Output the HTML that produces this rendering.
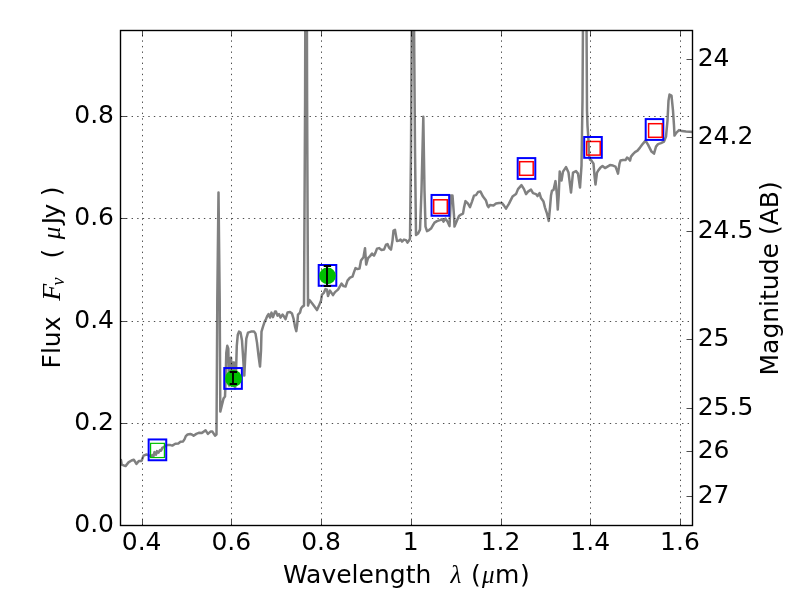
<!DOCTYPE html>
<html><head><meta charset="utf-8"><title>SED plot</title>
<style>html,body{margin:0;padding:0;background:#fff;width:800px;height:600px;overflow:hidden}svg{display:block}.txt{filter:grayscale(1)}</style>
</head><body>
<svg width="800" height="600" viewBox="0 0 800 600">
<defs><clipPath id="ax"><rect x="120" y="30" width="573" height="496"/></clipPath></defs>
<rect width="800" height="600" fill="#fff"/>
<path d="M116,456.6 L119,460.1 L121,460.1 L121.7,464.6 L125.5,466.1 L128.5,462.4 L131.5,460.5 L133.8,459.7 L136.4,463.9 L139,460.9 L141.6,460.9 L143.5,455.6 L146.5,454.5 L149.5,455.6 L151,456.6 L152.3,455.1 L153.3,456.6 L154.5,452.1 L156,454.6 L157,451.1 L158.5,452.6 L160,450.1 L161,450.6 L162.5,447.6 L164,447.1 L165.5,445.6 L167.5,445.1 L170.5,445.1 L172.3,445.6 L175.3,443.8 L178.3,443.4 L180.5,441.7 L183.1,441.4 L184.6,439.1 L185.8,436.1 L187.6,434.5 L190.3,434 L191.8,434.5 L193.6,435.7 L196.3,433.9 L199.3,432.7 L201.5,433.1 L203.8,431.6 L205.6,430.3 L207.9,433.9 L210.5,431.6 L212.4,431.6 L215,435.7 L216.5,434.6 L217.3,300.6 L218.5,192.4 L219.7,300.6 L220.3,411.6 L222,404.6 L223.5,398.6 L225,396.6 L225.6,380.6 L226.3,352.6 L227.3,345.8 L228.3,348.6 L229,385.6 L230,358.6 L231,357.6 L232,385.6 L233,362.6 L234,362.6 L235,388.6 L236,372.6 L236.8,345.6 L237.8,334.6 L239,331.6 L240.5,332.6 L242,340.6 L243,355.6 L244.3,375.6 L245.3,355.6 L246.3,338.6 L248,332.6 L251,331.6 L254,331.4 L255.5,333.6 L257,342.6 L258.5,355.6 L260,366.6 L261,350.6 L261.5,331.6 L263,326.6 L264.5,322.1 L266,319.1 L267.5,315.6 L268.5,314.1 L270,317.6 L271.5,312.6 L273,317.1 L275,311.6 L276,311.6 L277.5,315.6 L279,314.1 L280.5,317.6 L282.5,314.6 L284,316.6 L285.5,319.1 L287.5,312.6 L290,312.1 L292,313.6 L293.5,318.6 L295,326.6 L296.3,331.1 L297.2,324.6 L298,314.6 L300,312.6 L301,308.6 L302.5,306.6 L304,305.6 L305.1,100.6 L305.3,20 L306.9,20 L307.1,100.6 L308,305.6 L309.5,300.1 L313,304.6 L317,310.1 L319,305.6 L321,300.6 L322,294.6 L324,292.6 L325.5,289.1 L327,289.6 L328,296.1 L330,290.6 L333,295.1 L335,292.1 L338,289.6 L341.5,283.6 L343.5,286.1 L345.5,286.6 L347.5,280.6 L350,277.6 L352.5,276.6 L354,272.1 L355.5,268.1 L357.5,269.1 L359.5,268.6 L361,260.6 L362.5,258.6 L363.5,257.1 L365,248.2 L366.2,264.6 L368,258.1 L370,256.1 L372,253.6 L374,255.6 L375.5,252.6 L377,248.6 L379,248.1 L381.5,250.1 L384,249.6 L386,244.6 L387.5,244.1 L389,247.6 L391,249.6 L392.5,240.6 L393.5,230.6 L395,229.9 L396,235.6 L397,241.1 L399,240.6 L400.5,239.6 L402,241.6 L404,239.6 L406,240.1 L407.5,242.6 L409,240.6 L410,238.6 L411,150.6 L411.8,20 L414,20 L415,150.6 L416,235.1 L418,233.6 L420,229.6 L421.5,190.6 L423.3,116.8 L424.5,190.6 L425.5,226.6 L427,231.1 L429,230.1 L431,228.6 L433,225.1 L434.5,222.6 L437,221.1 L440,220.1 L442,219.1 L443.5,221.6 L445.5,218.6 L447.5,221.6 L449.5,226.1 L451,195.6 L452.5,195.6 L454,215.6 L454.5,226.6 L457,220.6 L459,216.1 L461,214.6 L463,213.6 L464,207.6 L465.5,201.1 L468,203.6 L470,207.1 L472,201.6 L474,195.6 L476,195.1 L478,192.1 L480.5,191.6 L483,196.6 L486,200.6 L487.5,205.6 L488.5,207.1 L490,205.1 L493.5,205.6 L496,203.6 L499,203.1 L502,203.1 L504,205.6 L506,208.6 L509,203.6 L512.5,196.6 L516,194.1 L518,189.1 L521.5,185.1 L524,189.1 L526,194.1 L528,191.6 L531,189.6 L533,193.1 L536,194.1 L537.5,196.1 L539.5,193.1 L541,198.1 L543.5,201.6 L545,207.6 L547,213.6 L548.75,220.9 L550,207.6 L551,195.6 L552,190.6 L553.5,190.1 L555.5,181.1 L557,195.6 L557.75,209.6 L558.7,195.6 L559.7,171.6 L561.5,180.6 L563,171.6 L566,167.1 L568.5,172.6 L571,192.6 L573,172.6 L576,171.1 L578,173.6 L580,187.6 L581.5,165.6 L582.5,100.6 L583,20 L586.5,20 L587,110.6 L587.5,125.6 L588.5,140.6 L589,155.6 L590,159.6 L591.5,160.6 L593.5,163.6 L594.5,175.6 L595.5,184.6 L597,172.6 L598.5,170.1 L600.5,167.6 L602.5,166.1 L605,168.1 L607.5,166.6 L610,165.1 L613,165.6 L615.5,166.6 L617,170.6 L618,173.6 L619.5,163.6 L620.5,160.6 L623,160.1 L625.5,160.1 L627,157.6 L628.5,158.6 L630,160.6 L631,156.6 L633,154.1 L635,152.1 L637.5,150.6 L640,147.6 L643,143.6 L645.5,140.6 L648,144.6 L651.5,151.6 L654,153.6 L656,146.6 L658,144.1 L661,143.1 L664,141.6 L666,136.6 L667.5,120.6 L668.5,100.6 L669.5,94.6 L671.5,95.6 L673,110.6 L674,125.6 L674.5,135.6 L676.5,132.6 L679,130.1 L682,131.1 L686,131.6 L696,132.1" fill="none" stroke="#808080" stroke-width="2.5" stroke-linejoin="round" stroke-linecap="butt" clip-path="url(#ax)"/>
<rect x="148.65" y="439.45" width="17.6" height="20.8" fill="none" stroke="#0000ff" stroke-width="2"/>
<rect x="224.25" y="368.05" width="17.6" height="20.8" fill="none" stroke="#0000ff" stroke-width="2"/>
<rect x="318.70" y="265.00" width="17.6" height="20.8" fill="none" stroke="#0000ff" stroke-width="2"/>
<rect x="431.55" y="194.95" width="17.6" height="20.8" fill="none" stroke="#0000ff" stroke-width="2"/>
<rect x="517.70" y="158.10" width="17.6" height="20.8" fill="none" stroke="#0000ff" stroke-width="2"/>
<rect x="584.20" y="137.00" width="17.6" height="20.8" fill="none" stroke="#0000ff" stroke-width="2"/>
<rect x="645.70" y="119.10" width="17.6" height="20.8" fill="none" stroke="#0000ff" stroke-width="2"/>
<rect x="433.70" y="199.80" width="13.6" height="13.6" fill="none" stroke="#ff0000" stroke-width="1.5"/>
<rect x="519.60" y="161.70" width="13.6" height="13.6" fill="none" stroke="#ff0000" stroke-width="1.5"/>
<rect x="586.60" y="141.50" width="13.6" height="13.6" fill="none" stroke="#ff0000" stroke-width="1.5"/>
<rect x="648.60" y="123.70" width="13.6" height="13.6" fill="none" stroke="#ff0000" stroke-width="1.5"/>
<rect x="150.60" y="443.35" width="13.8" height="14.2" fill="none" stroke="#00bf00" stroke-width="1.2"/>
<path d="M142.5,525.5 V30 M231.5,525.5 V30 M321.5,525.5 V30 M411.5,525.5 V30 M501.5,525.5 V30 M590.5,525.5 V30 M680.5,525.5 V30 M120.5,423.5 H693 M120.5,321.5 H693 M120.5,218.5 H693 M120.5,116.5 H693" fill="none" stroke="#000" stroke-width="0.7" stroke-dasharray="1.39 4.17" clip-path="url(#ax)"/>
<circle cx="233.5" cy="378.4" r="8.5" fill="#00bf00"/>
<path d="M233.0,372 V384 M229.7,372 H237.1 M229.7,384 H237.1" stroke="#000" stroke-width="1.9" fill="none"/>
<circle cx="327.5" cy="275.85" r="8.4" fill="#00bf00"/>
<path d="M327.0,266 V286 M323.7,266 H331.1 M323.7,286 H331.1" stroke="#000" stroke-width="1.9" fill="none"/>
<path d="M142.5,525.5 V519.5 M142.5,30.5 V36.5 M231.5,525.5 V519.5 M231.5,30.5 V36.5 M321.5,525.5 V519.5 M321.5,30.5 V36.5 M411.5,525.5 V519.5 M411.5,30.5 V36.5 M501.5,525.5 V519.5 M501.5,30.5 V36.5 M590.5,525.5 V519.5 M590.5,30.5 V36.5 M680.5,525.5 V519.5 M680.5,30.5 V36.5 M120.5,525.5 H126.5 M120.5,423.5 H126.5 M120.5,321.5 H126.5 M120.5,218.5 H126.5 M120.5,116.5 H126.5 M692.5,59.5 H686.5 M692.5,137.5 H686.5 M692.5,231.5 H686.5 M692.5,339.5 H686.5 M692.5,408.5 H686.5 M692.5,451.5 H686.5 M692.5,496.5 H686.5" stroke="#000" stroke-width="0.7" fill="none"/>
<rect x="120.5" y="30.5" width="572" height="495" fill="none" stroke="#000" stroke-width="1.39"/>
<g class="txt" font-family="DejaVu Sans, Liberation Sans, sans-serif" font-size="25" fill="#000">
<text x="114" y="531.7" text-anchor="end">0.0</text>
<text x="114" y="429.7" text-anchor="end">0.2</text>
<text x="114" y="327.7" text-anchor="end">0.4</text>
<text x="114" y="224.7" text-anchor="end">0.6</text>
<text x="114" y="122.7" text-anchor="end">0.8</text>
<text x="141.64" y="549.8" text-anchor="middle">0.4</text>
<text x="231.36" y="549.8" text-anchor="middle">0.6</text>
<text x="321.08" y="549.8" text-anchor="middle">0.8</text>
<text x="410.80" y="549.8" text-anchor="middle">1</text>
<text x="500.52" y="549.8" text-anchor="middle">1.2</text>
<text x="590.24" y="549.8" text-anchor="middle">1.4</text>
<text x="679.96" y="549.8" text-anchor="middle">1.6</text>
<text x="697.7" y="65.7">24</text>
<text x="697.7" y="143.7">24.2</text>
<text x="697.7" y="237.7">24.5</text>
<text x="697.7" y="345.7">25</text>
<text x="697.7" y="414.7">25.5</text>
<text x="697.7" y="457.7">26</text>
<text x="697.7" y="502.7">27</text>
<text x="283" y="583">Wavelength</text>
<text x="450.4" y="583" font-family="Liberation Serif, DejaVu Serif, serif" font-style="italic">λ</text>
<text x="471" y="583">(</text>
<text x="481.9" y="583" font-family="Liberation Serif, DejaVu Serif, serif" font-style="italic">μ</text>
<text x="494.9" y="583">m</text>
<text x="519.9" y="583">)</text>
<g transform="translate(60,400) rotate(-90)">
<text x="31.5" y="0">Flux</text>
<text transform="translate(99.2,0) scale(1.11,1)" x="0" y="0" font-family="Liberation Serif, DejaVu Serif, serif" font-style="italic">F</text>
<text x="114.6" y="4" font-family="Liberation Serif, DejaVu Serif, serif" font-style="italic" font-size="18">ν</text>
<text x="141.6" y="0">(</text>
<text x="160.8" y="0" font-family="Liberation Serif, DejaVu Serif, serif" font-style="italic">μ</text>
<text x="175.8" y="0">J</text>
<text x="181.4" y="0">y</text>
<text x="203.7" y="0">)</text>
</g>
<text transform="translate(778,400) rotate(-90)" x="24.5" y="0">Magnitude (AB)</text>
</g>
</svg>
</body></html>
